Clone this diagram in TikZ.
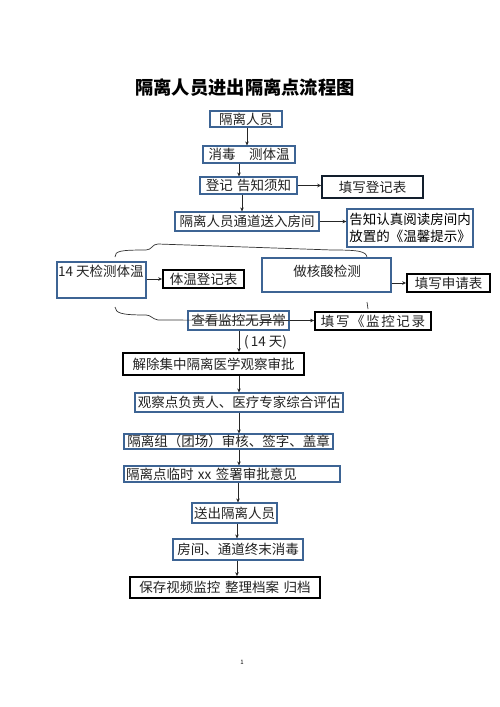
\documentclass[tikz,border=0pt]{standalone}
\usepackage{fontspec}
\setmainfont{Noto Sans CJK SC}
\usetikzlibrary{arrows.meta}
\definecolor{bbox}{HTML}{3D6494}
\definecolor{txt}{HTML}{222222}
\begin{document}
\begin{tikzpicture}[x=1pt,y=-1pt,
  bluebox/.style={draw=bbox,line width=1.1pt,inner sep=0pt,text=txt,font=\fontsize{13.5}{15}\selectfont},
  blackbox/.style={draw=black,line width=1.8pt,inner sep=0pt,text=txt,font=\fontsize{13.5}{15}\selectfont},
  plain/.style={inner sep=0pt,text=txt,font=\fontsize{13.5}{15}\selectfont},
  arr/.style={draw=black!85,line width=0.6pt,-{Stealth[length=4pt,width=3.5pt]}},
  brace/.style={draw=black!80,line width=0.7pt}]
\useasboundingbox (0,0) rectangle (500,707);
\fill[white] (0,0) rectangle (500,707);

\node[inner sep=0pt,text=black,font=\fontsize{18.3}{20}\selectfont\bfseries] (title) at (245,88) {隔离人员进出隔离点流程图};

\node[bluebox,minimum width=72pt,minimum height=16pt] (n1) at (246,119) {隔离人员};
\node[bluebox,minimum width=92pt,minimum height=17pt] (n2) at (249,154.5) {消毒\hspace{1em}测体温};
\node[bluebox,minimum width=97pt,minimum height=17pt] (n3) at (248.5,185.5) {登记\hspace{0.3em}告知须知};
\node[draw=black!70!bbox,line width=1.5pt,inner sep=0pt,text=txt,font=\fontsize{13.5}{15}\selectfont,minimum width=101pt,minimum height=22pt] (n3r) at (372.5,187) {填写登记表};
\node[bluebox,minimum width=144pt,minimum height=19pt] (n4) at (247,221.5) {隔离人员通道送入房间};
\node[bluebox,minimum width=126pt,minimum height=38pt,align=center,text=black,font=\fontsize{13.5}{17.5}\selectfont] (n4r) at (410,228) {告知认真阅读房间内\\放置的《温馨提示》};

% braces
\coordinate (tb1) at (115,257);
\coordinate (tb2) at (367,258);
\draw[brace] (tb1) .. controls (115,251) and (120,250) .. (146,250) .. controls (152,250) and (152,244) .. (158,244) -- (332,250) .. controls (358,250) and (367,251) .. (tb2);
\coordinate (bb1) at (115,307);
\coordinate (tick1) at (367,302);
\coordinate (tick2) at (368,309);
\draw[brace] (tick1) -- (tick2);

\node[bluebox,minimum width=89pt,minimum height=36pt] (nA) at (101.5,280) {};
\node[plain,anchor=west] (nAt) at (58,271) {14 天检测体温};
\node[blackbox,minimum width=81pt,minimum height=18pt] (nAr) at (203.5,279) {体温登记表};
\node[bluebox,minimum width=129pt,minimum height=34pt] (nB) at (326.5,275) {};
\node[plain] (nBt) at (327,271) {做核酸检测};
\node[blackbox,minimum width=83pt,minimum height=18pt] (nBr) at (448.5,283) {填写申请表};
\node[bluebox,minimum width=101pt,minimum height=19pt] (nC) at (238.5,320.5) {查看监控无异常};
\node[blackbox,minimum width=116pt,minimum height=18pt] (nCr) at (373,321) {填\kern1.6pt 写\kern1.6pt 《\kern1.6pt 监\kern1.6pt 控\kern1.6pt 记\kern1.6pt 录};
\draw[brace] (bb1) .. controls (116,313) and (120,315) .. (146,315) .. controls (151,315) and (152,319) .. (158,320) -- (nC.east);

\node[plain,anchor=west] (lab) at (244,342) {(\kern2pt 14 天)};
\node[blackbox,minimum width=181pt,minimum height=22pt] (nD) at (213.5,364) {解除集中隔离医学观察审批};
\node[bluebox,minimum width=208pt,minimum height=19pt] (nE) at (239,402.5) {观察点负责人、医疗专家综合评估};
\node[bluebox,minimum width=209pt,minimum height=15pt] (nF) at (228.5,441.5) {隔离组（团场）审核、签字、盖章};
\node[bluebox,minimum width=216pt,minimum height=16pt,text width=212pt,align=left] (nG) at (232,474) {隔离点临时 xx 签署审批意见};
\node[bluebox,minimum width=85pt,minimum height=20pt] (nH) at (234.5,513) {送出隔离人员};
\node[bluebox,minimum width=130pt,minimum height=21pt] (nI) at (238,549.5) {房间、通道终末消毒};
\node[blackbox,minimum width=190pt,minimum height=21pt] (nJ) at (225,587.5) {保存视频监控\hspace{0.35em}整理档案\hspace{0.35em}归档};

\node[inner sep=0pt,font=\fontsize{6}{7}\selectfont] (pg) at (242,662) {1};

% arrows
\draw[arr] (247,0 |- n1.south) -- (247,0 |- n2.north);
\draw[arr] (239,0 |- n2.south) -- (239,0 |- n3.north);
\draw[arr] (242,0 |- n3.south) -- (242,0 |- n4.north);
\draw[arr] (n3.east) -- (n3r.west |- n3.east);
\draw[arr] (n4.east) -- (n4r.west |- n4.east);
\draw[arr] (nA.east |- nAr.west) -- (nAr.west);
\draw[arr] (nB.east |- nBr.west) -- (nBr.west);
\draw[arr] (nC.east) -- (nCr.west |- nC.east);
\draw[arr] (239,0 |- nC.south) -- (239,0 |- nD.north);
\draw[arr] (239,0 |- nD.south) -- (239,0 |- nE.north);
\draw[arr] (239,0 |- nE.south) -- (239,0 |- nF.north);
\draw[arr] (239,0 |- nF.south) -- (239,0 |- nG.north);
\draw[arr] (238,0 |- nG.south) -- (238,0 |- nH.north);
\draw[arr] (237,0 |- nH.south) -- (237,0 |- nI.north);
\draw[arr] (237,0 |- nI.south) -- (237,0 |- nJ.north);
\end{tikzpicture}
\end{document}
